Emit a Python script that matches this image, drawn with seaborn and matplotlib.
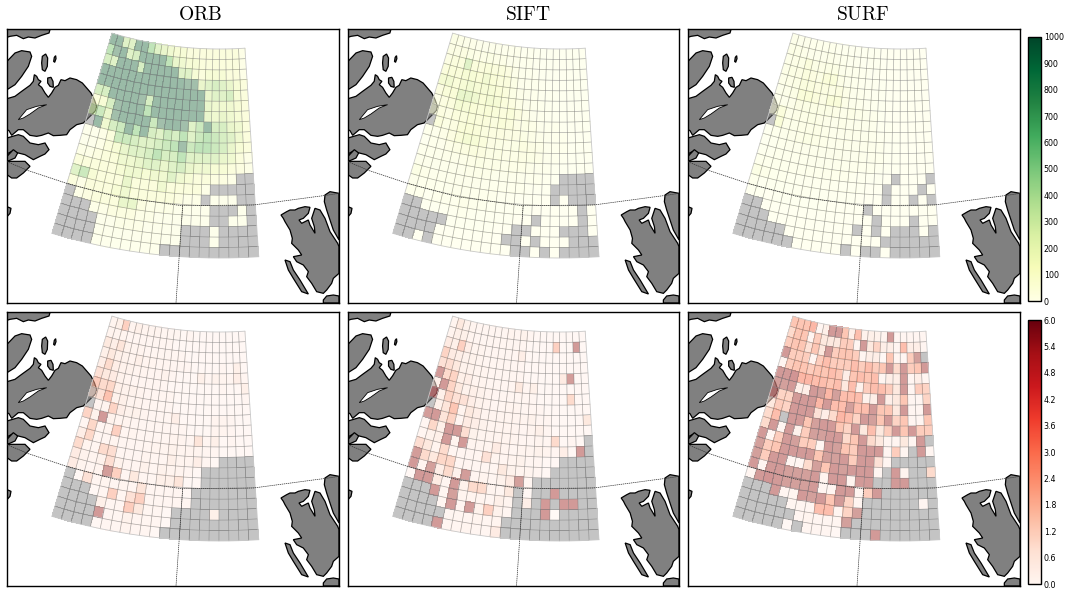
"""
Matched feature counts (top) and errors (bottom) per grid cell for ORB, SIFT and SURF
"""

import numpy as np
import matplotlib
matplotlib.use("Agg")
import matplotlib.pyplot as plt
from matplotlib.colors import ListedColormap, Normalize
from matplotlib.cm import ScalarMappable
import seaborn as sns

N = np.nan

detectors = ["ORB", "SIFT", "SURF"]
count_ticks = [0, 100, 200, 300, 400, 500, 600, 700, 800, 900, 1000]
error_ticks = [0.0, 0.6, 1.2, 1.8, 2.4, 3.0, 3.6, 4.2, 4.8, 5.4, 6.0]

orb_counts = [
    [550, 550, 300, 300, 550, 550, 450, 300, 250, 200, 150, 150, 100, 100, 100, 100, 100, 100, 100, 100, 50],
    [450, 500, 550, 300, 350, 550, 550, 550, 550, 450, 250, 200, 150, 150, 100, 100, 100, 100, 100, 100, 50],
    [350, 300, 550, 550, 550, 350, 550, 550, 550, 550, 550, 300, 300, 150, 100, 150, 150, 150, 100, 100, 50],
    [550, 550, 550, 550, 550, 550, 550, 550, 550, 550, 550, 550, 500, 500, 250, 300, 350, 300, 250, 150, 100],
    [550, 550, 550, 550, 550, 550, 550, 550, 550, 550, 550, 550, 550, 550, 550, 250, 300, 300, 350, 150, 100],
    [350, 350, 550, 550, 550, 550, 500, 350, 550, 550, 550, 550, 550, 550, 550, 250, 200, 200, 200, 150, 100],
    [100, 150, 350, 500, 550, 550, 550, 450, 550, 550, 550, 550, 550, 550, 550, 250, 200, 250, 200, 150, 100],
    [300, 400, 250, 500, 550, 550, 550, 550, 400, 500, 550, 550, 500, 300, 400, 550, 350, 350, 250, 200, 100],
    [N, 550, 200, 350, 400, 550, 450, 550, 350, 300, 400, 350, 450, 300, 400, 450, 400, 350, 300, 200, 100],
    [30, 30, 50, 100, 400, 400, 350, 300, 300, 350, 400, 450, 500, 400, 450, 450, 400, 350, 250, 150, 100],
    [30, 30, 50, 100, 150, 250, 300, 300, 350, 450, 350, 350, 450, 300, 300, 300, 300, 250, 200, 100, 50],
    [50, 50, 80, 100, 120, 200, 200, 250, 300, 300, 250, 300, 350, 250, 200, 200, 150, 150, 100, 80, 50],
    [100, 100, 100, 100, 100, 150, 200, 200, 150, 200, 200, 300, 200, 150, 100, 100, 80, 80, 50, N, N],
    [300, 400, 150, 100, 100, 100, 250, 100, 100, 100, 200, 100, 100, 100, 100, 50, N, N, N, N, N],
    [100, 50, 100, 100, 100, 150, 200, 100, 100, 100, 100, 100, 80, 50, 50, N, 30, 30, 30, N, N],
    [N, 50, 80, 100, 100, 100, 250, 250, 80, 50, 50, 50, 30, 30, 30, 30, N, N, N, 30, N],
    [N, N, N, 50, 50, 80, 80, 80, 50, 50, 30, 30, 30, 30, 30, 30, N, N, 30, 30, N],
    [N, N, N, N, 30, 30, 50, 50, 50, 30, 30, 30, 30, N, N, N, 30, N, N, N, N],
    [N, N, N, N, 30, 30, 30, 30, 30, 30, 30, 30, 30, N, N, N, 30, N, N, N, N],
    [N, N, N, N, 20, 20, 20, 20, 20, 20, 20, N, N, N, N, N, N, N, N, N, N],
]

sift_counts = [
    [60, 50, 40, 40, 30, 30, 30, 30, 20, 20, 20, 15, 15, 10, 10, 10, 10, 10, 10, 10, 10],
    [70, 70, 80, 60, 50, 50, 60, 50, 50, 30, 30, 20, 20, 15, 10, 10, 10, 10, 10, 10, 10],
    [70, 100, 100, 300, 100, 100, 120, 100, 100, 80, 40, 30, 20, 15, 10, 10, 10, 10, 10, 10, 10],
    [100, 120, 120, 150, 150, 130, 180, 130, 100, 100, 60, 30, 20, 20, 15, 10, 10, 10, 10, 10, 10],
    [170, 180, 120, 150, 180, 150, 150, 150, 130, 100, 60, 40, 30, 20, 15, 15, 10, 10, 10, 10, 10],
    [80, 120, 130, 250, 250, 200, 130, 170, 150, 100, 80, 50, 30, 30, 20, 15, 10, 10, 10, 10, 10],
    [50, 80, 100, 170, 150, 130, 120, 130, 120, 100, 120, 80, 50, 30, 20, 15, 10, 10, 10, 10, 10],
    [40, 80, 70, 100, 100, 120, 110, 100, 90, 120, 100, 70, 60, 50, 30, 20, 20, 10, 10, 10, 10],
    [N, 100, 60, 80, 120, 130, 120, 90, 80, 80, 70, 70, 60, 50, 40, 30, 20, 20, 10, 10, 10],
    [20, 30, 50, 80, 120, 170, 150, 100, 70, 60, 50, 60, 80, 70, 50, 30, 20, 20, 10, 10, 10],
    [10, 20, 30, 50, 70, 80, 90, 80, 60, 60, 50, 50, 70, 60, 50, 30, 20, 15, 10, 10, 10],
    [20, 20, 30, 40, 40, 40, 50, 60, 50, 50, 40, 50, 50, 40, 30, 20, 15, 10, 10, 10, 10],
    [30, 30, 30, 30, 30, 30, 40, 40, 40, 30, 30, 30, 30, 20, 20, 15, 10, N, N, N, N],
    [60, 40, 30, 30, 30, 30, 30, 30, 20, 20, 20, 20, 20, 15, 10, 10, N, N, N, N, N],
    [30, 20, 20, 20, 30, 30, 30, 20, 20, 20, 15, 15, 10, 10, 10, 5, N, 5, N, N, N],
    [20, 20, 10, 20, 20, 20, 40, 30, 20, 15, 10, 10, 10, 10, 5, 5, 5, 5, 5, N, 5],
    [N, N, 10, 10, 10, 15, 20, 15, 10, 10, 10, 10, 5, 5, N, 5, 5, 5, 5, N, 5],
    [N, N, N, N, N, 10, 10, 10, 10, 10, 5, 5, N, N, 5, 5, 5, N, N, N, 5],
    [N, N, N, N, 5, 5, 5, 5, 5, 5, 5, N, N, 5, N, 5, 5, 5, N, N, N],
    [N, N, 5, N, 5, 5, 5, 5, 5, 5, 5, 5, N, N, 5, N, 5, N, N, N, N],
]

surf_counts = [
    [40, 30, 30, 20, 20, 20, 20, 15, 15, 10, 10, 10, 10, 10, 5, 5, 5, 5, 5, 5, 5],
    [50, 50, 40, 30, 30, 30, 40, 30, 20, 15, 15, 10, 10, 10, 5, 5, 5, 5, 5, 5, 5],
    [40, 50, 60, 100, 60, 50, 60, 60, 30, 20, 20, 15, 10, 10, 5, 5, 5, 5, 5, 5, 5],
    [50, 60, 70, 90, 80, 60, 110, 120, 50, 30, 20, 15, 10, 10, 10, 5, 5, 5, 5, 5, 5],
    [40, 50, 60, 90, 90, 80, 80, 70, 80, 50, 30, 20, 15, 10, 10, 5, 5, 5, 5, 5, 5],
    [30, 40, 60, 120, 130, 100, 70, 120, 120, 50, 30, 20, 15, 15, 10, 5, 5, 5, 5, 5, 5],
    [20, 30, 40, 70, 60, 60, 60, 60, 50, 40, 50, 40, 30, 20, 10, 5, 5, 5, 5, 5, 5],
    [20, 100, 40, 50, 50, 60, 50, 40, 30, 40, 30, 30, 30, 20, 10, 10, 5, 5, 5, 5, 5],
    [N, 130, 40, 40, 50, 50, 50, 40, 30, 30, 30, 30, 30, 20, 15, 10, 10, 5, 5, 5, 5],
    [10, 20, 30, 40, 50, 60, 50, 40, 30, 30, 30, 30, 30, 30, 20, 10, 10, 5, 5, 5, 5],
    [10, 15, 20, 30, 30, 30, 30, 30, 30, 30, 25, 25, 30, 30, 20, 10, 10, 5, 5, 5, 5],
    [15, 15, 20, 20, 20, 20, 25, 25, 25, 20, 20, 20, 20, 20, 15, 10, 10, 5, 5, 5, 5],
    [20, 20, 20, 20, 20, 20, 20, 20, 20, 20, 20, 15, 15, 10, 10, 5, N, 5, 5, 5, N],
    [60, 40, 20, 20, 15, 15, 15, 15, 15, 15, 10, 10, 10, 5, 5, N, 5, 5, 5, N, 5],
    [20, 10, 15, 15, 15, 15, 15, 10, 10, 10, 10, 10, 5, 5, 5, N, 5, 5, N, 5, N],
    [10, 10, 5, 10, 10, 10, 10, 10, 10, 5, 5, 5, 5, N, 5, 5, 5, 5, 5, 5, 5],
    [N, N, 5, 5, 5, 5, 5, 5, 5, 5, 5, 5, 5, 5, N, 5, 5, 5, N, 5, 5],
    [N, N, N, 5, 5, 5, 5, 5, 5, 5, 5, 5, N, 5, N, 5, N, N, N, 5, N],
    [N, N, N, N, N, 5, 5, 5, 5, 5, 5, 5, 5, 5, 5, N, N, N, N, N, N],
    [N, N, N, N, N, N, 5, 5, 5, 5, 5, N, 5, N, N, 5, N, N, N, N, N],
]

orb_errors = [
    [0.3, 0.5, 1.5, 0.3, 0.5, 0.3, 0.3, 0.3, 0.2, 0.2, 0.2, 0.1, 0.2, 0.1, 0.1, 0.1, 0.1, 0.1, 0.1, 0.1, 0.1],
    [0.3, 0.3, 0.3, 0.2, 0.2, 0.2, 0.2, 0.2, 0.2, 0.2, 0.1, 0.1, 0.1, 0.1, 0.1, 0.1, 0.1, 0.1, 0.1, 0.1, 0.1],
    [0.8, 0.6, 0.9, 0.4, 0.3, 0.3, 0.2, 0.2, 0.2, 0.2, 0.2, 0.2, 0.1, 0.1, 0.1, 0.1, 0.1, 0.1, 0.1, 0.1, 0.1],
    [0.5, 0.8, 0.5, 0.4, 0.3, 0.5, 0.3, 0.3, 0.2, 0.2, 0.2, 0.2, 0.2, 0.1, 0.1, 0.1, 0.1, 0.2, 0.1, 0.5, 0.1],
    [0.6, 1.2, 0.6, 0.4, 0.4, 0.3, 0.3, 0.2, 0.2, 0.4, 0.2, 0.1, 0.1, 0.1, 0.5, 0.2, 0.4, 0.3, 0.2, 0.6, 0.2],
    [1.0, 0.8, 0.7, 0.4, 0.3, 0.2, 0.2, 0.2, 0.2, 0.2, 0.1, 0.1, 0.1, 0.1, 0.1, 0.1, 0.1, 0.2, 0.1, 0.1, 0.5],
    [1.6, 1.2, 1.3, 0.5, 0.4, 0.4, 0.3, 0.2, 0.2, 0.2, 0.2, 0.1, 0.1, 0.1, 0.1, 0.1, 0.1, 0.1, 0.1, 0.1, 0.2],
    [0.7, 1.0, 1.9, 0.4, 0.5, 0.3, 0.3, 0.2, 0.2, 0.2, 0.2, 0.1, 0.1, 0.1, 0.1, 0.1, 0.1, 0.1, 0.1, 0.1, 0.1],
    [N, 0.3, 0.3, 1.4, 0.6, 0.4, 0.4, 0.3, 0.2, 0.2, 0.2, 0.6, 0.1, 0.1, 0.1, 0.1, 0.3, 0.3, 0.2, 0.1, 0.1],
    [1.4, 0.4, 2.6, 0.4, 0.3, 0.3, 0.2, 0.2, 0.2, 0.2, 0.2, 0.2, 0.2, 0.1, 0.1, 0.1, 0.3, 0.3, 0.2, 0.1, 0.1],
    [0.2, 1.3, 0.2, 0.3, 1.5, 0.2, 0.3, 0.2, 0.2, 0.2, 0.2, 0.3, 0.3, 0.2, 0.9, 0.2, 0.5, 0.1, 0.2, 0.1, 0.1],
    [0.6, 1.3, 0.2, 0.2, 0.3, 0.2, 0.2, 0.2, 0.2, 0.3, 0.3, 0.4, 0.3, 0.3, 0.3, 0.2, 0.2, 0.1, 0.1, 0.1, 0.1],
    [1.2, 0.3, 0.2, 1.2, 1.1, 0.2, 0.2, 0.2, 0.3, 0.2, 0.2, 0.5, 0.3, 0.3, 0.6, 0.2, 0.1, N, N, N, N],
    [0.7, 0.4, 0.3, 0.4, 1.1, 0.4, 0.2, 0.2, 0.4, 0.2, 0.4, 0.3, 0.3, 0.2, 0.1, N, N, N, N, N, N],
    [0.7, 0.3, 0.2, 0.3, 2.5, 1.5, 0.2, 0.8, 0.2, 0.2, 0.5, 0.5, 0.9, 0.1, 0.1, N, N, N, N, N, N],
    [N, 0.1, 1.0, 0.2, 0.3, 0.2, 0.3, 0.2, 0.9, 0.2, 0.2, 0.2, 0.2, 0.1, N, N, N, N, N, N, N],
    [N, N, N, 0.1, 0.2, 1.5, 0.2, 1.0, 1.5, 0.2, 0.2, 0.2, 0.2, 0.2, N, N, N, N, N, N, N],
    [N, N, N, N, 0.5, 0.2, 0.2, 1.6, 0.8, 0.2, 0.2, 0.1, N, N, N, N, 0.5, N, N, N, N],
    [N, N, N, N, 2.6, 0.2, 0.2, 0.4, 0.2, 0.2, 0.2, 0.1, N, N, N, N, N, N, N, N, N],
    [N, N, N, N, 0.1, 0.2, 0.2, 0.3, 0.2, 0.2, 0.1, N, N, N, N, N, N, N, N, N, N],
]

sift_errors = [
    [0.3, 0.8, 0.4, 0.3, 0.2, 0.2, 0.2, 0.2, 0.2, 0.3, 0.2, 0.4, 0.2, 0.1, 0.1, 0.1, 0.1, 0.1, 0.1, 0.1, 0.1],
    [0.3, 0.5, 0.5, 0.3, 0.2, 0.2, 0.2, 0.2, 0.2, 0.2, 0.2, 0.2, 0.1, 0.1, 0.1, 0.1, 1.5, 0.1, 0.1, 2.6, 0.1],
    [0.7, 0.5, 1.5, 0.6, 0.3, 0.3, 0.2, 0.2, 0.2, 0.2, 0.2, 0.6, 0.1, 0.1, 0.1, 0.1, 0.1, 0.1, 0.1, 0.1, 0.1],
    [1.4, 0.7, 0.6, 0.4, 0.4, 0.3, 0.2, 0.2, 0.2, 0.2, 0.2, 0.2, 0.1, 0.1, 0.1, 0.1, 0.1, 0.1, 0.1, 0.1, 0.1],
    [1.0, 1.1, 0.8, 0.4, 0.4, 0.3, 0.3, 0.2, 0.2, 0.2, 0.2, 0.2, 0.1, 0.1, 0.1, 0.1, 0.1, 0.7, 2.5, 0.1, 0.1],
    [2.6, 1.2, 1.4, 0.5, 0.6, 0.3, 0.3, 0.2, 0.2, 0.2, 0.2, 0.8, 0.2, 0.5, 0.1, 0.1, 0.1, 0.1, 0.1, 0.1, 0.1],
    [0.5, 2.6, 1.4, 0.8, 0.4, 0.5, 0.4, 0.3, 0.2, 0.2, 0.2, 0.2, 0.2, 0.2, 0.1, 0.1, 0.1, 0.1, 1.2, 0.1, 0.1],
    [3.0, 0.5, 1.4, 1.0, 1.0, 0.6, 0.4, 0.3, 0.2, 0.2, 0.3, 0.3, 0.2, 0.2, 0.2, 0.1, 0.1, 0.1, 0.1, 0.1, 0.1],
    [N, 0.5, 0.9, 1.8, 0.3, 0.8, 0.6, 0.3, 0.3, 0.3, 0.3, 0.3, 0.3, 0.4, 0.2, 0.2, 0.1, 0.1, 0.1, 0.1, 0.8],
    [2.5, 2.6, 0.9, 1.4, 0.2, 0.7, 0.6, 0.4, 0.3, 0.3, 0.3, 0.3, 0.2, 0.3, 0.5, 0.2, 0.1, 0.1, 0.1, 0.1, 0.1],
    [0.2, 1.3, 0.5, 2.6, 2.6, 1.1, 0.4, 0.3, 0.3, 0.3, 0.3, 0.3, 0.2, 0.2, 0.3, 0.2, 1.2, 0.1, 0.2, 0.1, N],
    [0.2, 0.4, 0.5, 2.6, 0.3, 2.6, 0.3, 0.3, 0.3, 0.7, 0.3, 0.2, 0.3, 0.3, 0.4, 0.3, 0.2, 0.6, 0.1, 2.6, N],
    [1.1, 0.8, 0.3, 1.2, 0.2, 0.2, 0.2, 0.2, 1.0, 0.3, 0.2, 0.3, 0.4, 0.2, 0.2, 0.1, 0.1, N, N, N, N],
    [2.5, 1.2, 0.8, 1.3, 1.3, 0.2, 0.2, 0.2, 0.2, 0.2, 0.8, 0.4, 0.3, 0.3, 0.2, 0.1, N, N, N, N, N],
    [2.6, 0.3, 2.4, 0.6, 1.2, 0.4, 2.5, 0.2, 0.3, 0.2, 0.4, 0.7, 2.4, 0.2, N, N, N, N, N, N, N],
    [0.1, 2.6, 2.6, 0.7, 0.2, 2.6, 0.4, 1.2, 1.2, 0.3, 0.2, 0.8, N, 0.1, N, N, 2.6, N, N, N, N],
    [N, N, N, 2.6, 0.2, 2.4, 0.3, 0.3, 0.3, 0.2, 0.5, 0.3, N, 0.6, N, 2.6, N, 2.6, 2.6, N, N],
    [N, N, N, N, 0.2, 2.6, 0.2, 2.6, 0.4, 1.5, 0.4, 0.2, N, N, N, 2.6, 0.0, N, N, N, N],
    [N, N, N, N, N, 0.2, 0.2, 0.2, 0.3, 0.2, 0.3, N, N, N, N, N, N, N, N, N, N],
    [N, N, N, N, 2.6, 0.2, 0.2, 0.3, 0.2, 0.2, 0.7, N, N, N, N, N, N, N, N, N, N],
]

surf_errors = [
    [1.8, 1.8, 1.8, 2.2, 0.2, 0.5, 2.6, 2.6, 1.8, 0.6, 2.0, 0.4, 0.5, 0.4, 0.3, 2.6, 0.2, 0.2, 0.2, 0.2, 0.2],
    [1.2, 1.8, 1.8, 0.2, 1.6, 0.8, 0.8, 0.8, 1.6, 1.6, 0.2, 2.6, 0.8, 1.4, 0.6, 0.6, 0.2, 2.0, 0.6, 0.6, 0.2],
    [1.6, 1.8, 1.8, 1.0, 1.8, 0.8, 2.6, 1.6, 1.8, 1.8, 1.6, 0.2, 0.6, 0.6, 0.1, 1.8, 0.2, 0.2, 1.6, 2.4, N],
    [2.6, 1.6, 1.6, 1.6, 0.2, 1.6, 2.0, 1.6, 1.6, 1.6, 2.0, 1.6, 2.0, 1.6, 1.8, 2.6, 1.2, 2.6, 1.6, 1.8, 2.6],
    [0.2, 1.6, 1.8, 1.8, 1.6, 1.8, 1.8, 2.0, 1.8, 0.6, 1.8, 2.0, 1.8, 2.0, 0.2, 0.6, 0.6, 2.6, 0.2, 0.6, 0.2],
    [2.6, 2.6, 2.8, 2.2, 2.2, 2.0, 2.0, 1.8, 2.0, 0.8, 2.0, 0.4, 1.6, 2.0, 2.0, 1.6, 0.8, 2.6, 0.2, 1.6, 1.4],
    [2.4, 2.4, 2.6, 0.5, 0.6, 2.6, 2.4, 2.2, 2.4, 2.0, 2.0, 2.0, 0.4, 0.6, 2.6, 0.6, 0.8, 1.8, 0.2, 0.2, 1.4],
    [2.8, 1.4, 1.4, 2.6, 2.6, 2.6, 2.2, 2.6, 2.0, 2.0, 2.4, 2.0, 2.0, 2.6, 1.8, 1.8, 0.8, 2.6, 0.2, 0.2, 2.6],
    [0.8, 1.6, 1.4, 2.6, 2.6, 2.6, 1.0, 0.6, 1.2, 2.2, 2.0, 1.4, 2.6, 2.4, 1.8, 2.6, 1.4, 1.8, 0.2, 0.2, 1.8],
    [1.2, 2.0, N, 2.6, 2.6, 1.8, 2.4, 2.6, 2.6, 1.8, 1.4, 2.6, 0.8, 2.0, 0.8, 1.6, 2.6, 1.8, 2.6, 1.6, 1.6],
    [1.2, 2.6, 0.2, 2.6, 0.4, 1.6, 2.4, 2.4, 2.6, 2.6, 1.2, 1.8, 2.6, 1.2, 0.8, 0.2, 0.2, 0.8, 0.2, 2.6, N],
    [2.6, 0.2, 1.6, 2.6, 2.4, 1.6, 1.6, 0.2, 2.6, 2.4, 1.8, 1.6, 2.6, 2.6, 2.6, 0.2, 1.6, 0.2, N, 2.6, 0.2],
    [2.4, 1.6, 1.8, 2.6, 2.6, 2.6, 2.6, 1.8, 2.4, 2.4, 2.6, 1.6, 2.6, 2.6, 1.0, 0.2, N, N, N, N, N],
    [2.4, 1.6, 2.6, 2.6, 0.2, 0.2, 1.2, 2.4, 1.8, 2.6, 2.4, 2.6, 2.6, 2.6, 0.2, N, 2.6, 0.3, N, N, 1.2],
    [2.6, 0.2, 2.6, 2.6, 2.4, 2.4, 2.4, 2.6, 0.3, 2.6, 2.6, 0.3, 2.6, 2.6, N, N, 2.6, 2.6, N, N, N],
    [0.2, 2.6, 2.8, 2.6, 2.4, 2.4, 2.4, 2.6, 0.2, 0.2, 2.6, 2.6, 0.2, 1.6, 2.6, N, N, N, N, N, N],
    [N, N, N, 2.6, 0.2, 0.2, 2.6, 2.4, 2.6, 1.8, 2.6, 1.4, 0.2, N, N, N, N, N, N, 0.2, N],
    [N, N, N, N, N, 0.2, 0.2, 0.2, 2.0, 2.0, 0.2, 1.4, 2.4, N, N, N, N, N, N, N, N],
    [N, N, N, N, N, N, 0.2, 0.3, 0.2, 0.2, 0.2, 2.4, N, N, N, N, N, N, N, N, N],
    [N, N, N, N, N, 0.1, N, 0.2, 0.2, 0.2, 0.1, N, N, N, 2.6, N, N, N, N, N, N],
]

# coastlines, in map units
land_shapes = [
    [(21, 27), (150, 29), (147, 39), (125, 46), (105, 54), (85, 51), (70, 56), (50, 46), (30, 49), (21, 52)],
    [(21, 124), (45, 99), (65, 92), (90, 96), (95, 109), (85, 139), (65, 169), (45, 194), (21, 209)],
    [(127, 109), (137, 102), (143, 114), (142, 139), (135, 154), (127, 149), (125, 129)],
    [(163, 112), (167, 107), (168, 116), (164, 127), (161, 124)],
    [(143, 174), (153, 172), (159, 184), (160, 202), (150, 199), (143, 189)],
    [(21, 236), (45, 229), (65, 214), (90, 196), (100, 184), (103, 164), (110, 169), (115, 179), (123, 184),
     (115, 194), (125, 202), (135, 219), (145, 232), (155, 219), (165, 202), (175, 196), (183, 179), (195, 182),
     (210, 174), (230, 179), (247, 189), (260, 204), (273, 219), (283, 239), (290, 259), (287, 272), (270, 289),
     (250, 309), (230, 314), (210, 329), (200, 344), (180, 346), (160, 347), (145, 339), (125, 346), (110, 349),
     (90, 346), (70, 329), (55, 329), (35, 346), (27, 332), (21, 329)],
    [(21, 354), (55, 344), (70, 349), (90, 369), (115, 374), (135, 369), (147, 389), (135, 402), (120, 409),
     (100, 419), (75, 404), (55, 399), (35, 394), (21, 402)],
    [(21, 409), (40, 389), (53, 399), (45, 414), (27, 422), (21, 422)],
    [(21, 424), (50, 424), (75, 424), (90, 439), (70, 459), (50, 474), (35, 474), (21, 464)],
    [(21, 560), (33, 565), (30, 580), (21, 590)],
    [(843, 585), (860, 575), (870, 570), (885, 570), (895, 565), (915, 560), (930, 562), (925, 580), (910, 595),
     (897, 600), (905, 610), (925, 600), (930, 615), (945, 640), (943, 620), (935, 595), (945, 565), (960, 570),
     (975, 595), (990, 635), (1013, 670), (1017, 680), (1017, 760), (1000, 775), (995, 790), (980, 810),
     (970, 820), (950, 815), (935, 790), (920, 770), (925, 755), (910, 735), (890, 725), (880, 710), (905, 705),
     (895, 690), (875, 670), (877, 655), (870, 630), (855, 605), (850, 595)],
    [(975, 525), (990, 515), (1017, 520), (1017, 660), (1000, 630), (990, 600), (980, 570), (973, 545)],
    [(855, 720), (870, 725), (880, 750), (900, 780), (925, 822), (905, 815), (880, 775), (865, 750)],
    [(970, 840), (980, 828), (1000, 825), (1017, 828), (1017, 849), (970, 849)],
]
lake_shape = [(55, 299), (80, 269), (110, 259), (140, 254), (115, 264), (90, 282), (70, 294)]
border_east_west = [(21, 425), (85, 452), (200, 490), (350, 530), (545, 557), (760, 555), (985, 525), (1017, 520)]
border_south = [(548, 557), (528, 849)]


def make_grid():
    """
    Builds the cell corners of the fan shaped grid on the map.
    """
    bearing = np.radians(np.linspace(-16.7, 3.8, 22))
    radius = np.linspace(1128, 1755, 21)
    bearing, radius = np.meshgrid(bearing, radius)
    x = 660 + radius * np.sin(bearing)
    y = -1041 + radius * np.cos(bearing)
    return x, y


def draw_map(ax, grid_x, grid_y, values, cmap, vmax, high):
    """
    Draws the land, the coloured cells, the gray overlay and the borders on one panel.
    """
    for shape in land_shapes:
        ax.fill(*zip(*shape), facecolor="#808080", edgecolor="black", linewidth=0.9, zorder=1)
    ax.fill(*zip(*lake_shape), facecolor="white", edgecolor="black", linewidth=0.6, zorder=1.1)

    values = np.array(values, dtype=float)
    ax.pcolormesh(grid_x, grid_y, np.ma.masked_invalid(values), cmap=cmap, vmin=0, vmax=vmax,
                  alpha=0.55, linewidth=0, zorder=2)

    # no-data cells and the strongest cells are both grayed over
    empty = np.isnan(values)
    strong = np.nan_to_num(values) >= high
    for cells, color, alpha in ((empty, "#808080", 0.46), (strong, "#808098", 0.33)):
        ax.pcolormesh(grid_x, grid_y, np.ma.masked_where(~cells, np.zeros_like(values)),
                      cmap=ListedColormap([color]), alpha=alpha, linewidth=0, zorder=3)

    ax.plot(grid_x[1:-1, :].T, grid_y[1:-1, :].T, color="#808080", linewidth=0.5, alpha=0.65, zorder=4)
    ax.plot(grid_x[:, 1:-1], grid_y[:, 1:-1], color="#808080", linewidth=0.5, alpha=0.65, zorder=4)
    ax.plot(grid_x[[0, -1], :].T, grid_y[[0, -1], :].T, color="#c8c8c8", linewidth=0.6, zorder=4)
    ax.plot(grid_x[:, [0, -1]], grid_y[:, [0, -1]], color="#c8c8c8", linewidth=0.6, zorder=4)

    for border in (border_east_west, border_south):
        ax.plot(*zip(*border), color="#333333", linewidth=0.5, linestyle=(0, (2, 1)), zorder=5)

    ax.set_xlim(21, 1017)
    ax.set_ylim(849, 27)
    ax.set_xticks([])
    ax.set_yticks([])
    for spine in ax.spines.values():
        spine.set_color("black")
        spine.set_linewidth(1.0)


def pixel_axes(fig, left, top, right, bottom):
    """
    Adds axes placed in pixels measured from the top left of the figure.
    """
    width, height = 1066, 589
    return fig.add_axes([left / width, 1 - bottom / height, (right - left) / width, (bottom - top) / height])


def add_colorbar(fig, cax, cmap, vmax, ticks, fmt):
    """
    Draws one colorbar with its small tick labels.
    """
    bar = fig.colorbar(ScalarMappable(Normalize(0, vmax), cmap), cax=cax, ticks=ticks, format=fmt)
    bar.ax.tick_params(labelsize=5.7, length=2.5, width=0.6, direction="in", pad=2, right=True,
                       color="black", labelcolor="black")
    bar.outline.set_edgecolor("black")
    bar.outline.set_linewidth(1.0)


def main():
    """
    Builds the two rows of maps and saves the figure.
    """
    sns.set_theme(style="white")
    plt.rcParams["mathtext.fontset"] = "cm"
    greens = sns.color_palette("YlGn", as_cmap=True)
    reds = sns.color_palette("Reds", as_cmap=True)

    fig = plt.figure(figsize=(10.66, 5.89), dpi=100)
    grid_x, grid_y = make_grid()

    columns = [(7, 339), (348, 679), (688, 1020)]
    title_centers = [200.5, 528, 862.5]
    counts = [orb_counts, sift_counts, surf_counts]
    errors = [orb_errors, sift_errors, surf_errors]

    for (left, right), center, name, count, error in zip(columns, title_centers, detectors, counts, errors):
        top_ax = pixel_axes(fig, left, 29, right, 303)
        draw_map(top_ax, grid_x, grid_y, count, greens, 1000, 500)
        fig.text(center / 1066, 1 - 15 / 589, rf"$\mathrm{{{name}}}$", fontsize=14, color="black",
                 ha="center", va="center")

        bottom_ax = pixel_axes(fig, left, 312, right, 586)
        draw_map(bottom_ax, grid_x, grid_y, error, reds, 5, 2.4)

    add_colorbar(fig, pixel_axes(fig, 1028, 37, 1041, 301), greens, 1000, count_ticks, "%d")
    add_colorbar(fig, pixel_axes(fig, 1028, 320, 1041, 584), reds, 6, error_ticks, "%.1f")

    fig.savefig("out.png", dpi=100)


if __name__ == "__main__":
    main()
